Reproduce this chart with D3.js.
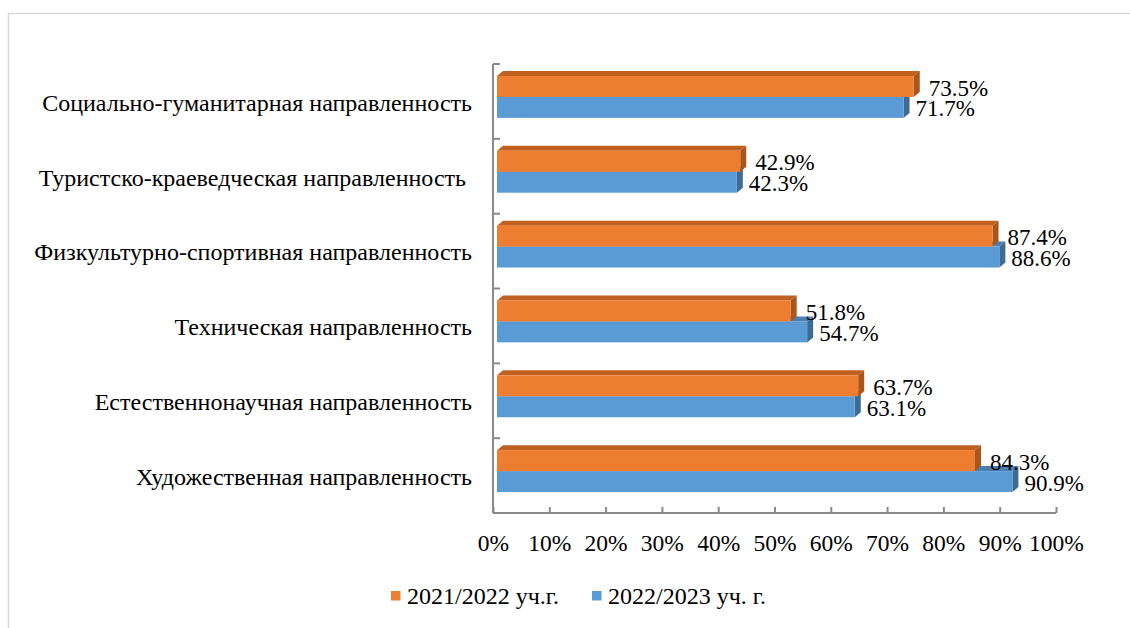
<!DOCTYPE html>
<html>
<head>
<meta charset="utf-8">
<script src="https://cdn.jsdelivr.net/npm/d3@7"></script>
<style>
  html, body { margin: 0; padding: 0; background: #fff; }
  svg { display: block; }
  text { font-family: "Liberation Serif", Tinos, "Times New Roman", "DejaVu Serif", serif; fill: #000; white-space: pre; }
</style>
</head>
<body>
<svg id="chart" width="1130" height="628"></svg>
<script>
const categories = [
  "Социально-гуманитарная направленность",
  "Туристско-краеведческая направленность ",
  "Физкультурно-спортивная направленность",
  "Техническая направленность",
  "Естественнонаучная направленность",
  "Художественная направленность"
];
const series2021 = [73.5, 42.9, 87.4, 51.8, 63.7, 84.3];
const series2022 = [71.7, 42.3, 88.6, 54.7, 63.1, 90.9];
const seriesNames = ["2021/2022 уч.г.", "2022/2023 уч. г."];
const tickValues = [0, 10, 20, 30, 40, 50, 60, 70, 80, 90, 100];

const svg = d3.select("#chart");
const W = 1130, H = 628;

svg.append("rect").attr("x", 8.5).attr("y", 13.5).attr("width", W).attr("height", H)
  .attr("fill", "#fff").attr("stroke", "#d9d9d9").attr("stroke-width", 1.5);

const plotTop = 64, plotBottom = 513;
const y = d3.scaleBand().domain(categories).range([plotTop, plotBottom]);
const xAxisScale = d3.scaleLinear().domain([0, 100]).range([493, 1056]);
const xBar = d3.scaleLinear().domain([0, 100]).range([497, 1064]);

const dx = 6, dy = 5;
const bw = y.bandwidth();
const barH = bw * 0.28;
const off = bw * 0.16;

const colors = {
  o: { front: "#ED7D31", top: "#C1611F", side: "#A9551B" },
  b: { front: "#5B9BD5", top: "#4A7FB2", side: "#3E6B95" }
};

function bar(g, x1, y0, h, c) {
  const x0 = xBar(0);
  g.append("polygon").attr("points", [[x0, y0], [x0 + dx, y0 - dy], [x1 + dx, y0 - dy], [x1, y0]].join(" "))
    .attr("fill", c.top);
  g.append("polygon").attr("points", [[x1, y0], [x1 + dx, y0 - dy], [x1 + dx, y0 + h - dy], [x1, y0 + h]].join(" "))
    .attr("fill", c.side);
  g.append("rect").attr("x", x0).attr("y", y0).attr("width", x1 - x0).attr("height", h).attr("fill", c.front);
}

const axisColor = "#8a8a8a";

const xAxis = d3.axisBottom(xAxisScale).tickValues(tickValues).tickSize(-6).tickPadding(21)
  .tickFormat(d => d + "%");
const gx = svg.append("g").attr("transform", `translate(0,${plotBottom})`).call(xAxis);
gx.attr("font-family", null);
gx.select(".domain").attr("stroke", axisColor).attr("stroke-width", 2).attr("d", `M${xAxisScale(0)},0H${xAxisScale(100)}`);
gx.selectAll(".tick line").attr("stroke", axisColor).attr("stroke-width", 2);
gx.selectAll(".tick text").attr("font-size", 23.5).attr("fill", "#000");

const gy = svg.append("g");
gy.append("line").attr("x1", xAxisScale(0)).attr("x2", xAxisScale(0)).attr("y1", plotTop).attr("y2", plotBottom)
  .attr("stroke", axisColor).attr("stroke-width", 2);
const boundaries = categories.map(c => y(c));
gy.selectAll("line.tk").data(boundaries).enter().append("line")
  .attr("x1", xAxisScale(0)).attr("x2", xAxisScale(0) + 7)
  .attr("y1", d => d).attr("y2", d => d)
  .attr("stroke", axisColor).attr("stroke-width", 2);

categories.forEach((c, i) => {
  const g = svg.append("g");
  const yo = y(c) + off;
  const yb = yo + barH;
  bar(g, xBar(series2022[i]), yb, barH, colors.b);
  bar(g, xBar(series2021[i]), yo, barH, colors.o);
});

categories.forEach((c, i) => {
  const yo = y(c) + off;
  const yb = yo + barH;
  svg.append("text").attr("x", xBar(series2021[i]) + dx + 9).attr("y", yo + barH / 2 + 1)
    .attr("dy", "0.35em").attr("font-size", 23).text(series2021[i].toFixed(1) + "%");
  svg.append("text").attr("x", xBar(series2022[i]) + dx + 6).attr("y", yb + barH / 2 + 1)
    .attr("dy", "0.35em").attr("font-size", 23).text(series2022[i].toFixed(1) + "%");
  svg.append("text").attr("x", 472).attr("y", y(c) + bw / 2 + 1).attr("dy", "0.35em")
    .attr("text-anchor", "end").attr("font-size", 24).text(c);
});

const legend = [
  { name: seriesNames[0], color: colors.o.front, x: 391 },
  { name: seriesNames[1], color: colors.b.front, x: 592 }
];
legend.forEach(l => {
  svg.append("rect").attr("x", l.x).attr("y", 591).attr("width", 9.5).attr("height", 9.5).attr("fill", l.color);
  svg.append("text").attr("x", l.x + 16).attr("y", 596).attr("dy", "0.35em").attr("font-size", 24).text(l.name);
});
</script>
</body>
</html>
